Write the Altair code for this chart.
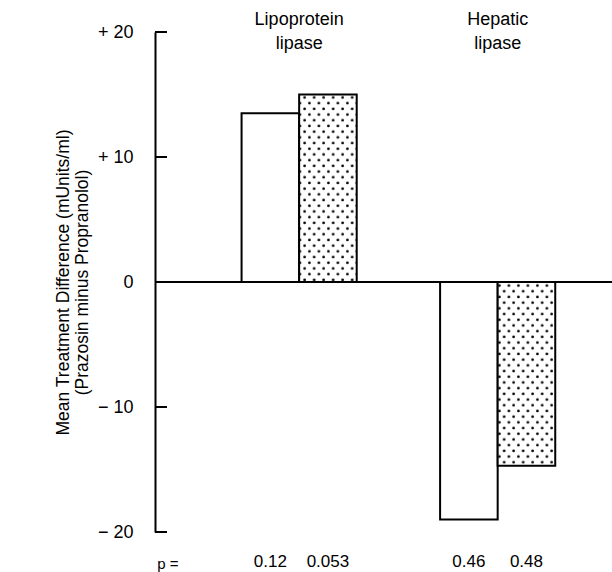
import altair as alt
import pandas as pd
import jinja2

# ---- data ----
groups = ["Lipoprotein lipase", "Hepatic lipase"]
group_labels = ["Lipoprotein\nlipase", "Hepatic\nlipase"]
series = ["Open", "Stippled"]
values_open = [13.5, -19.0]
values_stippled = [15.0, -14.7]
p_open = ["0.12", "0.46"]
p_stippled = ["0.053", "0.48"]
y_ticks = [20, 10, 0, -10, -20]

rows = []
for g, vo, vs, po, ps in zip(groups, values_open, values_stippled, p_open, p_stippled):
    rows.append({"group": g, "series": series[0], "value": vo, "p": po})
    rows.append({"group": g, "series": series[1], "value": vs, "p": ps})
bars_df = pd.DataFrame(rows)
labels_df = pd.DataFrame({"group": groups, "label": group_labels})
ticks_df = pd.DataFrame({"tick": y_ticks})

FONT = "Liberation Sans"

x_scale = alt.Scale(domain=groups, paddingInner=0.42, paddingOuter=0.361, align=0.604)
y_scale = alt.Scale(domain=[-20, 20], nice=False)

y_axis = alt.Axis(
    values=y_ticks,
    labelExpr="datum.value > 0 ? '+ ' + datum.value : (datum.value < 0 ? '\u2212 ' + abs(datum.value) : '0')",
    ticks=False, grid=False, domain=True, domainColor="black", domainWidth=2,
    labelFont=FONT, labelFontSize=18, labelColor="black", labelPadding=22,
    title=["Mean Treatment Difference (mUnits/ml)", "(Prazosin minus Propranolol)"],
    titleFont=FONT, titleFontSize=17.5, titleFontWeight="normal", titleColor="black",
    titlePadding=6, titleLineHeight=19,
)

base = alt.Chart(bars_df)

bars = base.mark_bar(stroke="black", strokeWidth=2).encode(
    x=alt.X("group:N", scale=x_scale, axis=None, sort=groups),
    xOffset=alt.XOffset("series:N", scale=alt.Scale(domain=series, paddingInner=0, paddingOuter=0)),
    y=alt.Y("value:Q", scale=y_scale, axis=y_axis),
    y2=alt.datum(0),
    fill=alt.Fill("series:N", scale=alt.Scale(domain=series, range=["white", "url(#dots)"]), legend=None),
)

zero = alt.Chart(bars_df).mark_rule(color="black", strokeWidth=2).encode(y=alt.datum(0))

ticks = alt.Chart(ticks_df).mark_rule(color="black", strokeWidth=2).encode(
    x=alt.value(0), x2=alt.value(12), y=alt.Y("tick:Q")
)

group_text = alt.Chart(labels_df).mark_text(
    font=FONT, fontSize=18, lineBreak="\n", lineHeight=24, baseline="middle", dy=-12, color="black"
).encode(
    x=alt.X("group:N", sort=groups), y=alt.datum(20), text="label:N"
)

p_text = base.mark_text(font=FONT, fontSize=17, baseline="middle", dy=30, color="black").encode(
    x=alt.X("group:N", sort=groups), xOffset="series:N", y=alt.datum(-20), text="p:N"
)

p_lab = alt.Chart(labels_df.head(1)).mark_text(
    font=FONT, fontSize=15, baseline="middle", dy=32, color="black"
).encode(x=alt.value(13), y=alt.datum(-20), text=alt.value("p ="))

chart = alt.layer(bars, zero, ticks, group_text, p_text, p_lab).properties(
    width=457, height=500,
    padding={"left": 147, "top": 24, "right": 0, "bottom": 40},
    autosize=alt.AutoSizeParams(type="none"),
).configure_view(stroke=None)

TEMPLATE = jinja2.Template("""<!DOCTYPE html>
<html>
<head>
  <style>
    html, body { overflow: hidden; }
    body { margin: 8px 0 0 8px; }
    #{{ output_div }}.vega-embed { width: 100%; display: flex; }
    #{{ output_div }}.vega-embed details,
    #{{ output_div }}.vega-embed details summary { position: relative; }
  </style>
  <script type="text/javascript" src="{{ base_url }}/vega@{{ vega_version }}"></script>
  <script type="text/javascript" src="{{ base_url }}/vega-lite@{{ vegalite_version }}"></script>
  <script type="text/javascript" src="{{ base_url }}/vega-embed@{{ vegaembed_version }}"></script>
</head>
<body>
  <svg width="0" height="0" style="position:absolute">
    <defs>
      <pattern id="dots" patternUnits="userSpaceOnUse" width="9.5" height="11.4">
        <rect width="9.5" height="11.4" fill="white"/>
        <circle cx="2.4" cy="2.8" r="1.35" fill="black"/>
        <circle cx="7.15" cy="8.5" r="1.35" fill="black"/>
      </pattern>
    </defs>
  </svg>
  <div id="{{ output_div }}"></div>
  <script>
    (function(vegaEmbed) {
      var spec = {{ spec }};
      var embedOpt = {{ embed_options }};
      const el = document.getElementById('{{ output_div }}');
      vegaEmbed("#{{ output_div }}", spec, embedOpt).catch(function(error) {
        el.innerHTML = '<div style="color:red;">' + error.message + '</div>';
        throw error;
      });
    })(vegaEmbed);
  </script>
</body>
</html>
""")

chart.save("out.html", embed_options={"renderer": "svg", "actions": False}, template=TEMPLATE)
